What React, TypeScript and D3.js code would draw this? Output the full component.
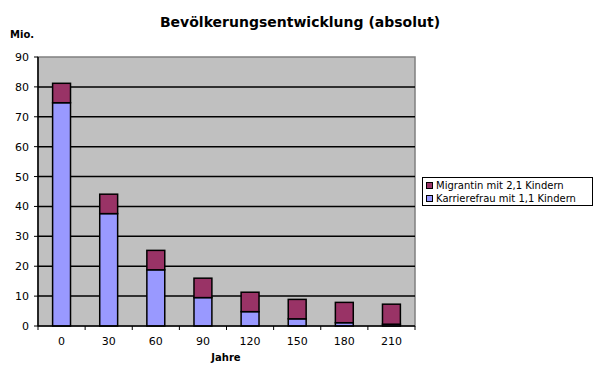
import React from "react";
import * as d3 from "d3";

const categories = ["0", "30", "60", "90", "120", "150", "180", "210"];
const karriere = [74.7, 37.6, 18.8, 9.5, 4.8, 2.4, 1.1, 0.6];
const migrantin = [6.5, 6.5, 6.5, 6.5, 6.5, 6.5, 6.8, 6.7];
const yTicks = [0, 10, 20, 30, 40, 50, 60, 70, 80, 90];
const seriesNames = ["Migrantin mit 2,1 Kindern", "Karrierefrau mit 1,1 Kindern"];

const W = 600, H = 377;
const left = 38, right = 415, top = 57, bottom = 326;
const font = "Verdana, 'DejaVu Sans', sans-serif";

export default function App() {
  const x = d3.scaleBand<string>().domain(categories).range([left, right]).paddingInner(0.62).paddingOuter(0.31);
  const y = d3.scaleLinear().domain([0, 90]).range([bottom, top]);
  const boundaries = d3.range(categories.length + 1).map((i) => left + i * ((right - left) / categories.length));

  return (
    <svg width={W} height={H} style={{ position: "absolute", left: 0, top: 0, background: "#fff" }}>
      <text x={300} y={27} textAnchor="middle" fontFamily={font} fontWeight="bold" fontSize={14}>
        Bevölkerungsentwicklung (absolut)
      </text>
      <text x={10} y={38} fontFamily={font} fontWeight="bold" fontSize={10}>Mio.</text>

      <rect x={left} y={top} width={right - left} height={bottom - top} fill="#C0C0C0" stroke="#808080" strokeWidth={1.5} />
      {yTicks.slice(1, -1).map((t) => (
        <line key={t} x1={left} x2={right} y1={y(t)} y2={y(t)} stroke="#000" strokeWidth={1.5} />
      ))}

      {categories.map((c, i) => {
        const bx = x(c)!;
        const bw = x.bandwidth();
        const k = karriere[i];
        const m = migrantin[i];
        return (
          <g key={c}>
            <rect x={bx} y={y(k)} width={bw} height={y(0) - y(k)} fill="#9999FF" stroke="#000" strokeWidth={1.5} />
            <rect x={bx} y={y(k + m)} width={bw} height={y(k) - y(k + m)} fill="#993366" stroke="#000" strokeWidth={1.5} />
          </g>
        );
      })}

      <line x1={left} x2={left} y1={top} y2={bottom} stroke="#000" strokeWidth={1.5} />
      <line x1={left} x2={right} y1={bottom} y2={bottom} stroke="#000" strokeWidth={1.5} />
      {yTicks.map((t) => (
        <g key={t}>
          <line x1={left - 4} x2={left} y1={y(t)} y2={y(t)} stroke="#000" strokeWidth={1} />
          <text x={29} y={y(t) + 4} textAnchor="end" fontFamily={font} fontSize={11}>{t}</text>
        </g>
      ))}
      {boundaries.map((bx, i) => (
        <line key={i} x1={bx} x2={bx} y1={bottom} y2={bottom + 4} stroke="#000" strokeWidth={1} />
      ))}
      {categories.map((c) => (
        <text key={c} x={x(c)! + x.bandwidth() / 2} y={345} textAnchor="middle" fontFamily={font} fontSize={11}>{c}</text>
      ))}
      <text x={226} y={361} textAnchor="middle" fontFamily={font} fontWeight="bold" fontSize={10}>Jahre</text>

      <rect x={422.5} y={177.5} width={170} height={28} fill="#fff" stroke="#000" strokeWidth={1} />
      {seriesNames.map((s, i) => (
        <g key={s}>
          <rect x={426.5} y={182.5 + i * 13} width={6} height={6} fill={i === 0 ? "#993366" : "#9999FF"} stroke="#000" strokeWidth={1} />
          <text x={436} y={189 + i * 13} fontFamily={font} fontSize={10}>{s}</text>
        </g>
      ))}
    </svg>
  );
}
